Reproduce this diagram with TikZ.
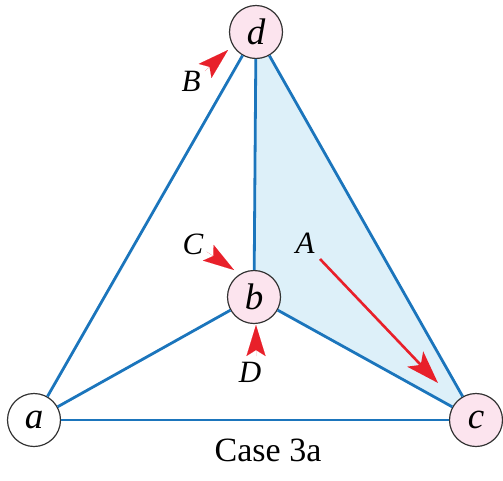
\documentclass[tikz,border=0pt]{standalone}
\usepackage{fontspec}
\setmainfont{Liberation Serif}
\usetikzlibrary{arrows.meta}
\definecolor{edgeblue}{HTML}{1B75BC}
\definecolor{nodepink}{HTML}{FCE4EE}
\definecolor{shadeblue}{HTML}{DDF0F9}
\definecolor{arrred}{HTML}{E8202A}
\tikzset{
  vert/.style={circle, draw=black!80, line width=1.2pt, fill=nodepink, minimum size=53pt, inner sep=0pt, font=\fontsize{37}{40}\selectfont\itshape},
  whitevert/.style={vert, fill=white},
  edge/.style={draw=edgeblue, line width=2.8pt},
  lbl/.style={font=\fontsize{31}{33}\selectfont\itshape, inner sep=0pt},
  headonly/.style={draw=arrred, -{Stealth[length=31pt, width=19pt, inset=6pt]}, line width=0.01pt},
  mainarrow/.style={draw=arrred, line width=2.6pt, -{Stealth[length=33pt, width=22pt, inset=8pt]}},
}
\begin{document}
\begin{tikzpicture}[x=1pt, y=-1pt]
\useasboundingbox (0,0) rectangle (503,480);
% shaded face
\fill[shadeblue] (256,32) -- (254,297) -- (477,420) -- cycle;
% vertices
\node[vert] (d) at (256,32) {d};
\node[vert] (b) at (254,297) {b};
\node[whitevert] (a) at (34,420) {a};
\node[vert] (c) at (476,420) {c};
% edges
\draw[edge] (d) -- (a);
\draw[edge] (d) -- (c);
\draw[edge] (d) -- (b);
\draw[edge] (b) -- (a);
\draw[edge] (b) -- (c);
\draw[edge] (a) -- (c);
% labels
\node[lbl] (lA) at (305,243) {A};
\node[lbl] (lB) at (191,81) {B};
\node[lbl] (lC) at (193,244) {C};
\node[lbl] (lD) at (250,372) {D};
% arrow A
\coordinate (As) at (320,259);
\coordinate (At) at (438,383);
\draw[mainarrow] (As) -- (At);
% arrowheads B, C, D
\coordinate (Bs) at (205,71);
\coordinate (Bt) at (228,50);
\draw[headonly] (Bs) -- (Bt);
\coordinate (Cs) at (206.5,251.5);
\coordinate (Ct) at (234,270);
\draw[headonly] (Cs) -- (Ct);
\coordinate (Ds) at (256,356);
\coordinate (Dt) at (256,325);
\draw[headonly] (Ds) -- (Dt);
% caption
\node[font=\fontsize{34}{36}\selectfont, inner sep=0pt] (cap) at (268,450) {Case 3a};
\end{tikzpicture}
\end{document}
